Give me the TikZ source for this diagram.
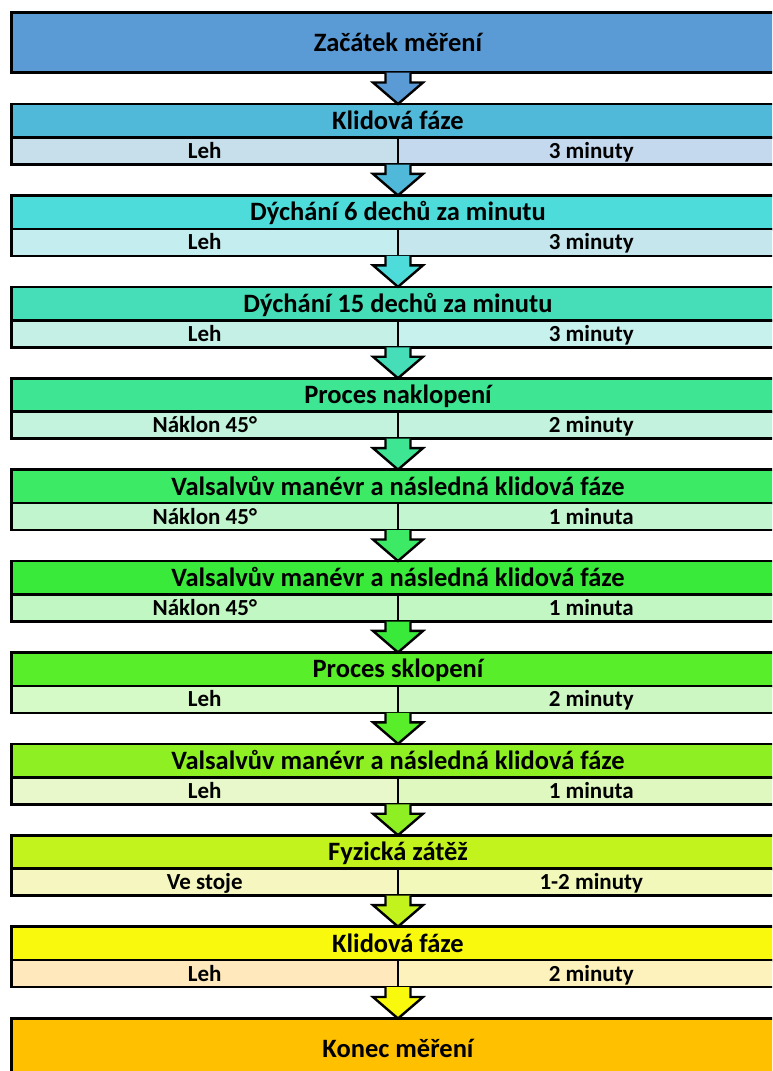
\documentclass[tikz,border=0pt]{standalone}
\usepackage{fontspec}
\setmainfont{Carlito}
\usetikzlibrary{calc}
\definecolor{c0}{HTML}{5B9BD5}
\definecolor{cend}{HTML}{FFC000}
\definecolor{h0}{HTML}{50B8D8}\definecolor{l0}{HTML}{C7DFEA}\definecolor{r0}{HTML}{C5D9EE}
\definecolor{h1}{HTML}{4EDCDA}\definecolor{l1}{HTML}{C4EDEF}\definecolor{r1}{HTML}{C4E6EC}
\definecolor{h2}{HTML}{45DEB8}\definecolor{l2}{HTML}{C4F0E6}\definecolor{r2}{HTML}{C6F1EC}
\definecolor{h3}{HTML}{3EE592}\definecolor{l3}{HTML}{C3F3DC}\definecolor{r3}{HTML}{C3F3DE}
\definecolor{h4}{HTML}{3DEA66}\definecolor{l4}{HTML}{C1F5CE}\definecolor{r4}{HTML}{C2F5D0}
\definecolor{h5}{HTML}{3AEA3A}\definecolor{l5}{HTML}{C1F7C3}\definecolor{r5}{HTML}{C2F7C4}
\definecolor{h6}{HTML}{58EE2A}\definecolor{l6}{HTML}{D6F9C8}\definecolor{r6}{HTML}{CDF7C2}
\definecolor{h7}{HTML}{8EF022}\definecolor{l7}{HTML}{E9F8CA}\definecolor{r7}{HTML}{DFF8C0}
\definecolor{h8}{HTML}{C3F31D}\definecolor{l8}{HTML}{F6F6C0}\definecolor{r8}{HTML}{F2F8BA}
\definecolor{h9}{HTML}{F9F90E}\definecolor{l9}{HTML}{FEE8BC}\definecolor{r9}{HTML}{FEF2BC}
\newcommand\blockarrow[3]{%
  \fill[#3] let \p1=(#1), \p2=(#2) in
    (\x2-12.5pt,\y1) -- (\x2-12.5pt,\y2+21.5pt) -- (\x2-25pt,\y2+21.5pt) -- (\x2,\y2)
    -- (\x2+25pt,\y2+21.5pt) -- (\x2+12.5pt,\y2+21.5pt) -- (\x2+12.5pt,\y1) -- cycle;
  \draw[arrowline] let \p1=(#1), \p2=(#2) in
    (\x2-12.5pt,\y1) -- (\x2-12.5pt,\y2+21.5pt) -- (\x2-25pt,\y2+21.5pt) -- (\x2,\y2)
    -- (\x2+25pt,\y2+21.5pt) -- (\x2+12.5pt,\y2+21.5pt) -- (\x2+12.5pt,\y1);
}
\begin{document}
\begin{tikzpicture}[x=1pt,y=-1pt,
  bigbox/.style={draw=black, line width=2.6pt, rectangle, outer sep=0pt, inner sep=0pt,
    minimum width=773pt, minimum height=60pt, text height=17pt, text depth=0pt,
    font=\fontsize{26.5}{30}\selectfont\bfseries, text=black},
  headbox/.style={draw=black, line width=2.6pt, rectangle, outer sep=0pt, inner sep=0pt,
    minimum width=773pt, minimum height=34pt, text height=17pt, text depth=0pt,
    font=\fontsize{26.5}{30}\selectfont\bfseries, text=black},
  cellbox/.style={draw=black, line width=2.6pt, rectangle, outer sep=0pt, inner sep=0pt,
    minimum width=386.5pt, minimum height=27pt, text height=14.8pt, text depth=0pt,
    font=\fontsize{23}{26}\selectfont\bfseries, text=black},
  arrowline/.style={draw=black, line width=2.4pt, line join=miter}]
\useasboundingbox (0,0) rectangle (772,1071);
\clip (0,0) rectangle (772,1071);
\node[bigbox, fill=c0] (start) at (398,42.5) {Začátek měření};
\foreach \i/\t/\l/\r in {
  0/Klidová fáze/Leh/3 minuty,
  1/Dýchání 6 dechů za minutu/Leh/3 minuty,
  2/Dýchání 15 dechů za minutu/Leh/3 minuty,
  3/Proces naklopení/Náklon 45°/2 minuty,
  4/Valsalvův manévr a následná klidová fáze/Náklon 45°/1 minuta,
  5/Valsalvův manévr a následná klidová fáze/Náklon 45°/1 minuta,
  6/Proces sklopení/Leh/2 minuty,
  7/Valsalvův manévr a následná klidová fáze/Leh/1 minuta,
  8/Fyzická zátěž/Ve stoje/1-2 minuty,
  9/Klidová fáze/Leh/2 minuty}{
  \pgfmathsetmacro\T{103.5+91.4*\i}
  \node[headbox, fill=h\i] (h\i) at (398,\T+17.5) {\t};
  \node[cellbox, fill=l\i] (l\i) at (204.75,\T+47.5) {\l};
  \node[cellbox, fill=r\i] (r\i) at (591.25,\T+47.5) {\r};
}
\node[bigbox, fill=cend] (stop) at (398,1048.5) {Konec měření};
\blockarrow{start.south}{h0.north}{c0}
\foreach \i in {0,...,8}{
  \pgfmathtruncatemacro\j{\i+1}
  \blockarrow{l\i.south east}{h\j.north}{h\i}
}
\blockarrow{l9.south east}{stop.north}{h9}
\end{tikzpicture}
\end{document}
